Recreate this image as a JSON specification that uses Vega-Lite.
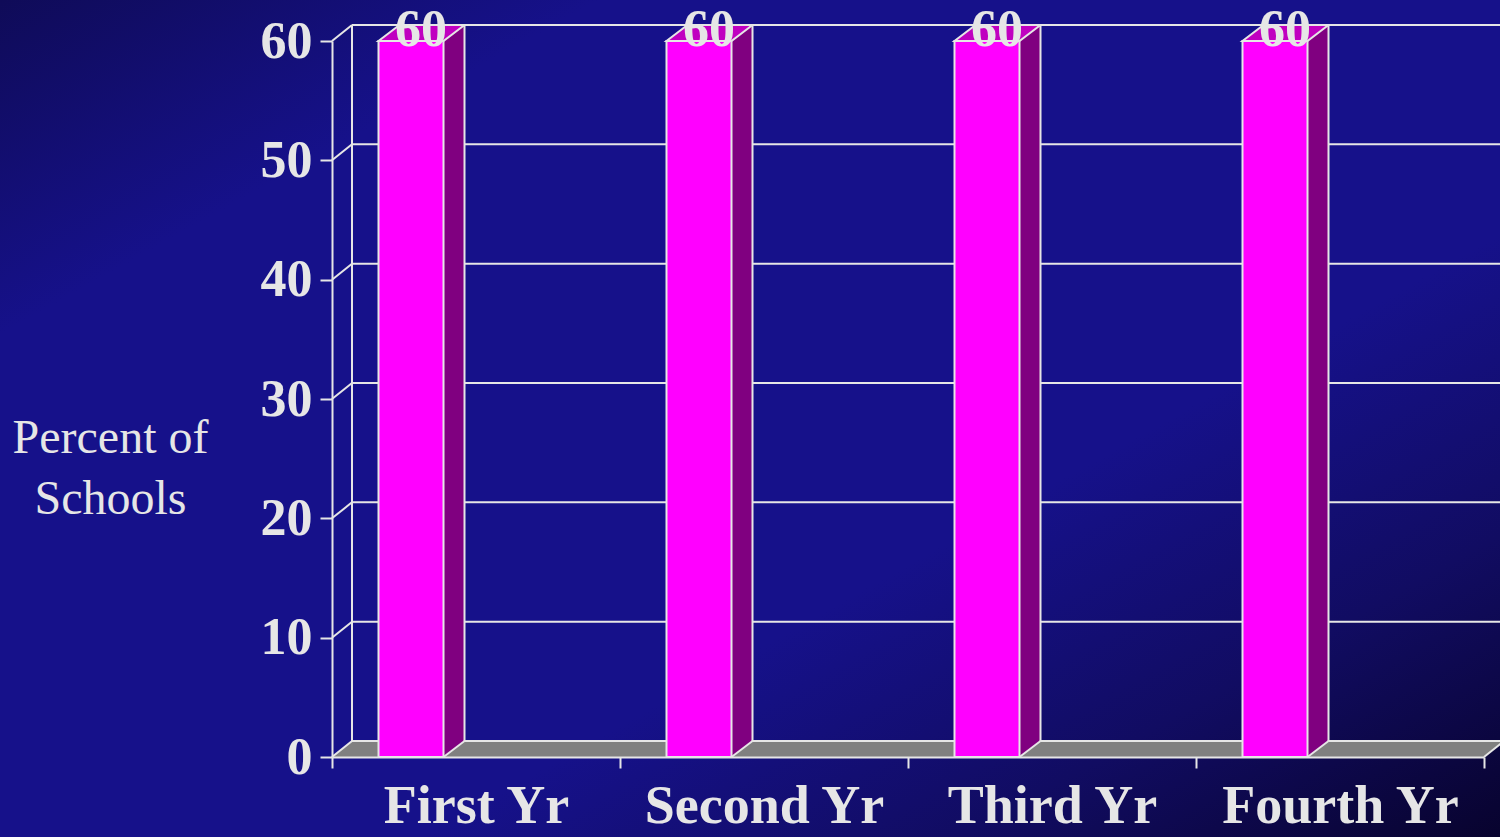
{
  "$schema": "https://vega.github.io/schema/vega-lite/v6.json",
  "width": 1500,
  "height": 837,
  "autosize": {"type": "none"},
  "padding": 0,
  "background": "#15108a",
  "config": {
    "view": {
      "stroke": null,
      "fill": {
        "gradient": "linear",
        "x1": 0, "y1": 0, "x2": 1, "y2": 1,
        "stops": [
          {"offset": 0, "color": "#0f0b58"},
          {"offset": 0.2, "color": "#16118a"},
          {"offset": 0.64, "color": "#16118a"},
          {"offset": 0.82, "color": "#110c62"},
          {"offset": 1, "color": "#08032e"}
        ]
      }
    }
  },
  "datasets": {
    "bars": [
      {"year": "First Yr", "percent": 60},
      {"year": "Second Yr", "percent": 60},
      {"year": "Third Yr", "percent": 60},
      {"year": "Fourth Yr", "percent": 60}
    ],
    "levels": [
      {"v": 0}, {"v": 10}, {"v": 20}, {"v": 30}, {"v": 40}, {"v": 50}, {"v": 60}
    ],
    "one": [{}]
  },
  "layer": [
    {
      "data": {"name": "one"},
      "mark": {"type": "rule", "stroke": "#808080", "strokeWidth": 16, "strokeCap": "butt", "xOffset": -124, "x2Offset": 144, "yOffset": -8},
      "encoding": {
        "x": {"datum": "First Yr", "type": "nominal", "scale": {"type": "band", "domain": ["First Yr", "Second Yr", "Third Yr", "Fourth Yr"], "range": [332, 1484], "paddingInner": 0, "paddingOuter": 0}},
        "x2": {"datum": "Fourth Yr"},
        "y": {"datum": 0, "type": "quantitative", "scale": {"type": "linear", "domain": [0, 60], "range": [757, 41], "nice": false, "zero": false}}
      }
    },
    {
      "data": {"name": "one"},
      "mark": {"type": "point", "shape": "M-144,0L-124,0L-124,-16Z", "size": 4, "filled": true, "fill": "#808080", "strokeWidth": 0, "opacity": 1},
      "encoding": {
        "x": {"datum": "First Yr", "type": "nominal", "scale": {"type": "band", "domain": ["First Yr", "Second Yr", "Third Yr", "Fourth Yr"], "range": [332, 1484], "paddingInner": 0, "paddingOuter": 0}},
        "y": {"datum": 0, "type": "quantitative", "scale": {"type": "linear", "domain": [0, 60], "range": [757, 41], "nice": false, "zero": false}}
      }
    },
    {
      "data": {"name": "one"},
      "mark": {"type": "point", "shape": "M144,0L164,-16L144,-16Z", "size": 4, "filled": true, "fill": "#808080", "strokeWidth": 0, "opacity": 1},
      "encoding": {
        "x": {"datum": "Fourth Yr", "type": "nominal", "scale": {"type": "band", "domain": ["First Yr", "Second Yr", "Third Yr", "Fourth Yr"], "range": [332, 1484], "paddingInner": 0, "paddingOuter": 0}},
        "y": {"datum": 0, "type": "quantitative", "scale": {"type": "linear", "domain": [0, 60], "range": [757, 41], "nice": false, "zero": false}}
      }
    },
    {
      "data": {"name": "levels"},
      "mark": {"type": "rule", "stroke": "#e6e6e6", "strokeWidth": 2, "xOffset": -124, "x2Offset": 164, "yOffset": -16},
      "encoding": {
        "x": {"datum": "First Yr", "type": "nominal", "scale": {"type": "band", "domain": ["First Yr", "Second Yr", "Third Yr", "Fourth Yr"], "range": [332, 1484], "paddingInner": 0, "paddingOuter": 0}},
        "x2": {"datum": "Fourth Yr"},
        "y": {"field": "v", "type": "quantitative", "scale": {"type": "linear", "domain": [0, 60], "range": [757, 41], "nice": false, "zero": false}}
      }
    },
    {
      "data": {"name": "levels"},
      "mark": {"type": "rule", "stroke": "#e6e6e6", "strokeWidth": 2, "xOffset": -144, "x2Offset": -124, "y2Offset": -16},
      "encoding": {
        "x": {"datum": "First Yr", "type": "nominal", "scale": {"type": "band", "domain": ["First Yr", "Second Yr", "Third Yr", "Fourth Yr"], "range": [332, 1484], "paddingInner": 0, "paddingOuter": 0}},
        "x2": {"datum": "First Yr"},
        "y": {"field": "v", "type": "quantitative", "scale": {"type": "linear", "domain": [0, 60], "range": [757, 41], "nice": false, "zero": false}},
        "y2": {"field": "v"}
      }
    },
    {
      "data": {"name": "one"},
      "mark": {"type": "rule", "stroke": "#e6e6e6", "strokeWidth": 2, "xOffset": -124, "yOffset": -16, "y2Offset": -16},
      "encoding": {
        "x": {"datum": "First Yr", "type": "nominal", "scale": {"type": "band", "domain": ["First Yr", "Second Yr", "Third Yr", "Fourth Yr"], "range": [332, 1484], "paddingInner": 0, "paddingOuter": 0}},
        "y": {"datum": 0, "type": "quantitative", "scale": {"type": "linear", "domain": [0, 60], "range": [757, 41], "nice": false, "zero": false}},
        "y2": {"datum": 60}
      }
    },
    {
      "data": {"name": "one"},
      "mark": {"type": "rule", "stroke": "#e6e6e6", "strokeWidth": 2, "xOffset": 144, "x2Offset": 164, "y2Offset": -16},
      "encoding": {
        "x": {"datum": "Fourth Yr", "type": "nominal", "scale": {"type": "band", "domain": ["First Yr", "Second Yr", "Third Yr", "Fourth Yr"], "range": [332, 1484], "paddingInner": 0, "paddingOuter": 0}},
        "x2": {"datum": "Fourth Yr"},
        "y": {"datum": 0, "type": "quantitative", "scale": {"type": "linear", "domain": [0, 60], "range": [757, 41], "nice": false, "zero": false}},
        "y2": {"datum": 0}
      }
    },
    {
      "data": {"name": "bars"},
      "mark": {"type": "bar", "fill": "#800080", "strokeWidth": 0, "width": 21, "xOffset": -22, "y2Offset": -16},
      "encoding": {
        "x": {"field": "year", "type": "nominal", "scale": {"type": "band", "domain": ["First Yr", "Second Yr", "Third Yr", "Fourth Yr"], "range": [332, 1484], "paddingInner": 0, "paddingOuter": 0}},
        "y": {"field": "percent", "type": "quantitative", "scale": {"type": "linear", "domain": [0, 60], "range": [757, 41], "nice": false, "zero": false}},
        "y2": {"datum": 0}
      }
    },
    {
      "data": {"name": "bars"},
      "mark": {"type": "point", "shape": "M-32.5,0L-11.5,-16L-11.5,0Z", "size": 4, "filled": true, "fill": "#800080", "strokeWidth": 0, "opacity": 1},
      "encoding": {
        "x": {"field": "year", "type": "nominal", "scale": {"type": "band", "domain": ["First Yr", "Second Yr", "Third Yr", "Fourth Yr"], "range": [332, 1484], "paddingInner": 0, "paddingOuter": 0}},
        "y": {"field": "percent", "type": "quantitative", "scale": {"type": "linear", "domain": [0, 60], "range": [757, 41], "nice": false, "zero": false}}
      }
    },
    {
      "data": {"name": "bars"},
      "mark": {"type": "point", "shape": "M-32.5,-16L-11.5,-16L-32.5,0Z", "size": 4, "filled": true, "fill": "#800080", "strokeWidth": 0, "opacity": 1},
      "encoding": {
        "x": {"field": "year", "type": "nominal", "scale": {"type": "band", "domain": ["First Yr", "Second Yr", "Third Yr", "Fourth Yr"], "range": [332, 1484], "paddingInner": 0, "paddingOuter": 0}},
        "y": {"datum": 0, "type": "quantitative", "scale": {"type": "linear", "domain": [0, 60], "range": [757, 41], "nice": false, "zero": false}}
      }
    },
    {
      "data": {"name": "bars"},
      "mark": {"type": "rule", "stroke": "#e6e6e6", "strokeWidth": 2, "xOffset": -11.5, "yOffset": -16, "y2Offset": -16},
      "encoding": {
        "x": {"field": "year", "type": "nominal", "scale": {"type": "band", "domain": ["First Yr", "Second Yr", "Third Yr", "Fourth Yr"], "range": [332, 1484], "paddingInner": 0, "paddingOuter": 0}},
        "y": {"field": "percent", "type": "quantitative", "scale": {"type": "linear", "domain": [0, 60], "range": [757, 41], "nice": false, "zero": false}},
        "y2": {"datum": 0}
      }
    },
    {
      "data": {"name": "bars"},
      "mark": {"type": "rule", "stroke": "#e6e6e6", "strokeWidth": 2, "xOffset": -32.5, "x2Offset": -11.5, "y2Offset": -16},
      "encoding": {
        "x": {"field": "year", "type": "nominal", "scale": {"type": "band", "domain": ["First Yr", "Second Yr", "Third Yr", "Fourth Yr"], "range": [332, 1484], "paddingInner": 0, "paddingOuter": 0}},
        "x2": {"field": "year"},
        "y": {"datum": 0, "type": "quantitative", "scale": {"type": "linear", "domain": [0, 60], "range": [757, 41], "nice": false, "zero": false}},
        "y2": {"datum": 0}
      }
    },
    {
      "data": {"name": "bars"},
      "mark": {"type": "bar", "fill": "#ff00ff", "stroke": "#e6e6e6", "strokeWidth": 2, "width": 65, "xOffset": -65},
      "encoding": {
        "x": {
          "field": "year", "type": "nominal", "sort": null,
          "scale": {"type": "band", "domain": ["First Yr", "Second Yr", "Third Yr", "Fourth Yr"], "range": [332, 1484], "paddingInner": 0, "paddingOuter": 0},
          "axis": {
            "orient": "bottom", "offset": -80, "title": null, "grid": false, "tickBand": "extent",
            "domain": true, "domainColor": "#e6e6e6", "domainWidth": 2,
            "ticks": true, "tickSize": 11, "tickColor": "#e6e6e6", "tickWidth": 2,
            "labelFont": "Liberation Serif", "labelFontWeight": "bold", "labelFontSize": 54, "labelColor": "#e6e6e6",
            "labelPadding": 54, "labelBaseline": "alphabetic", "labelAngle": 0, "labelAlign": "center", "labelOverlap": false, "labelBound": false, "labelLimit": 0,
            "zindex": 1
          }
        },
        "y": {
          "field": "percent", "type": "quantitative",
          "scale": {"type": "linear", "domain": [0, 60], "range": [757, 41], "nice": false, "zero": false},
          "axis": {
            "orient": "left", "offset": -332, "values": [0, 10, 20, 30, 40, 50, 60], "grid": false,
            "domain": true, "domainColor": "#e6e6e6", "domainWidth": 2,
            "ticks": true, "tickSize": 12, "tickColor": "#e6e6e6", "tickWidth": 2,
            "labelFont": "Liberation Serif", "labelFontWeight": "bold", "labelFontSize": 52, "labelColor": "#e6e6e6",
            "labelPadding": 8, "labelFlush": false, "labelOverlap": false, "labelBound": false,
            "title": ["Percent of", "Schools"], "titleFont": "Liberation Serif", "titleFontWeight": "normal", "titleFontSize": 48,
            "titleColor": "#e6e6e6", "titleAngle": 0, "titleAlign": "center", "titleBaseline": "alphabetic",
            "titleX": -222, "titleY": 452, "titleLineHeight": 61,
            "zindex": 1
          }
        }
      }
    },
    {
      "data": {"name": "bars"},
      "mark": {"type": "point", "shape": "M-97.5,0L-32.5,0L-11.5,-16L-76.5,-16Z", "size": 4, "filled": true, "fill": "#c000c0", "stroke": "#e6e6e6", "strokeWidth": 2, "opacity": 1},
      "encoding": {
        "x": {"field": "year", "type": "nominal", "scale": {"type": "band", "domain": ["First Yr", "Second Yr", "Third Yr", "Fourth Yr"], "range": [332, 1484], "paddingInner": 0, "paddingOuter": 0}},
        "y": {"field": "percent", "type": "quantitative", "scale": {"type": "linear", "domain": [0, 60], "range": [757, 41], "nice": false, "zero": false}}
      }
    },
    {
      "data": {"name": "bars"},
      "mark": {"type": "text", "font": "Liberation Serif", "fontWeight": "bold", "fontSize": 52, "fill": "#e6e6e6", "align": "center", "baseline": "alphabetic", "dy": 5, "xOffset": -55},
      "encoding": {
        "x": {"field": "year", "type": "nominal", "scale": {"type": "band", "domain": ["First Yr", "Second Yr", "Third Yr", "Fourth Yr"], "range": [332, 1484], "paddingInner": 0, "paddingOuter": 0}},
        "y": {"field": "percent", "type": "quantitative", "scale": {"type": "linear", "domain": [0, 60], "range": [757, 41], "nice": false, "zero": false}},
        "text": {"field": "percent", "type": "quantitative"}
      }
    }
  ]
}
